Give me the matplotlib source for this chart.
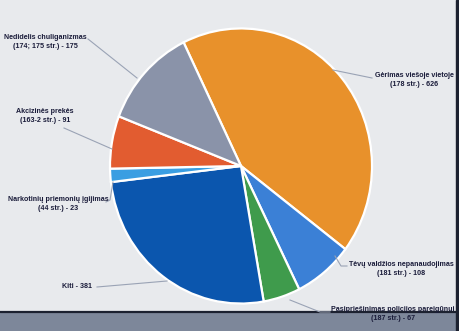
import matplotlib
matplotlib.use("Agg")
import matplotlib.pyplot as plt
from matplotlib.transforms import Affine2D
from matplotlib.patches import Rectangle

categories = [
    "Gėrimas viešoje vietoje\n(178 str.) - 626",
    "Tėvų valdžios nepanaudojimas\n(181 str.) - 108",
    "Pasipriešinimas policijos pareigūnui\n(187 str.) - 67",
    "Kiti - 381",
    "Narkotinių priemonių įgijimas\n(44 str.) - 23",
    "Akcizinės prekės\n(163-2 str.) - 91",
    "Nedidelis chuliganizmas\n(174; 175 str.) - 175",
]
values = [626, 108, 67, 381, 23, 91, 175]
colors = ["#e8912b", "#3b80d6", "#3f9b4c", "#0b56ae", "#3a9ee2", "#e25c30", "#8a93a9"]

W, H = 460, 331
fig = plt.figure(figsize=(W / 100, H / 100), dpi=100)
fig.patch.set_facecolor("#e8eaed")
ax = fig.add_axes([0, 0, 1, 1])
ax.set_facecolor("#e8eaed")

def Y(py):
    return H - py

cx, cy = 241, Y(166)
wedges, _ = ax.pie(values, colors=colors, startangle=116, counterclock=False,
                   center=(cx, cy), radius=131, frame=True,
                   explode=[0.015, 0, 0, 0, 0, 0, 0],
                   wedgeprops=dict(edgecolor="white", linewidth=1.6))
tr = Affine2D().translate(-cx, -cy).scale(1, 1.05).translate(cx, cy) + ax.transData
for w in wedges:
    w.set_transform(tr)

ax.set_xlim(0, W)
ax.set_ylim(0, H)
ax.set_aspect("auto")
ax.axis("off")

# screen bezel
ax.add_patch(Rectangle((0, 0), W, Y(313), color="#7d879a", zorder=0.5))
ax.add_patch(Rectangle((456, 0), 4, H, color="#1c2130", zorder=0.6))
ax.plot([0, 456], [Y(312), Y(312)], color="#1c2130", lw=1.6, zorder=0.7)

font = dict(family=["Liberation Sans", "DejaVu Sans"], weight="bold",
            fontsize=5.1, color="#1a1c3a", linespacing=1.5)

# labels: (text index, text center x, text center y, leader line points)
label_specs = [
    (0, 414, 80, [(333, 70), (372, 78)]),
    (1, 401, 269, [(335, 256), (341, 266), (347, 266)]),
    (2, 393, 314, [(290, 300), (320, 312), (330, 312)]),
    (3, 77, 287, [(167, 281), (97, 287)]),
    (4, 58, 204, [(113, 182), (110, 200), (106, 202)]),
    (5, 45, 116, [(112, 149), (64, 128)]),
    (6, 45, 42, [(137, 78), (88, 39)]),
]
for i, tx, ty, pts in label_specs:
    xs = [p[0] for p in pts]
    ys = [Y(p[1]) for p in pts]
    ax.plot(xs, ys, color="#9aa3b5", lw=0.8, zorder=1)
    ax.text(tx, Y(ty), categories[i], ha="center", va="center",
            multialignment="center", zorder=3, **font)

fig.savefig("out.png", dpi=100, facecolor=fig.get_facecolor())
